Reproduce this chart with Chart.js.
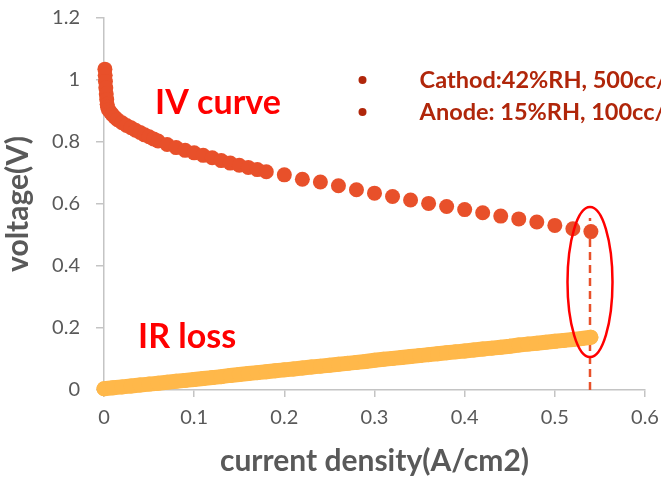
<!DOCTYPE html>
<html>
<head>
<meta charset="utf-8">
<script src="https://cdn.jsdelivr.net/npm/chart.js@4"></script>
<style>
  html, body { margin: 0; padding: 0; background: #ffffff; }
  #wrap { width: 661px; height: 479px; position: relative; }
</style>
</head>
<body>
<div id="wrap"><canvas id="ivChart"></canvas></div>
<script>
// IV curve (current density A/cm2, voltage V)
const ivX = [0.001, 0.0013, 0.0016, 0.002, 0.0025, 0.003, 0.0035, 0.004, 0.005, 0.007, 0.009, 0.012, 0.015,
  0.02, 0.025, 0.03, 0.035, 0.04, 0.045, 0.05, 0.055, 0.06, 0.07, 0.08, 0.09, 0.10, 0.11, 0.12, 0.13,
  0.14, 0.15, 0.16, 0.17, 0.18, 0.20, 0.22, 0.24, 0.26, 0.28, 0.30, 0.32, 0.34, 0.36, 0.38, 0.40,
  0.42, 0.44, 0.46, 0.48, 0.50, 0.52, 0.54];
const ivY = [1.035, 1.015, 0.995, 0.975, 0.955, 0.937, 0.922, 0.912, 0.904, 0.897, 0.889, 0.880, 0.872,
  0.862, 0.853, 0.846, 0.838, 0.831, 0.823, 0.817, 0.810, 0.803, 0.792, 0.782, 0.773, 0.765, 0.757, 0.749, 0.740,
  0.732, 0.725, 0.718, 0.711, 0.704, 0.694, 0.680, 0.671, 0.659, 0.646, 0.635, 0.624, 0.613, 0.602, 0.592, 0.582,
  0.572, 0.561, 0.552, 0.542, 0.531, 0.520, 0.511];

// IR loss
const irX = [0, 0.01, 0.02, 0.03, 0.04, 0.05, 0.06, 0.07, 0.08, 0.09, 0.10, 0.11, 0.12, 0.13, 0.14, 0.15,
  0.16, 0.17, 0.18, 0.19, 0.20, 0.21, 0.22, 0.23, 0.24, 0.25, 0.26, 0.27, 0.28, 0.29, 0.30, 0.31, 0.32,
  0.33, 0.34, 0.35, 0.36, 0.37, 0.38, 0.39, 0.40, 0.41, 0.42, 0.43, 0.44, 0.45, 0.46, 0.47, 0.48, 0.49,
  0.50, 0.51, 0.52, 0.53, 0.54];
const irY = [0.004, 0.007, 0.010, 0.013, 0.016, 0.019, 0.022, 0.025, 0.028, 0.031, 0.034, 0.037, 0.040,
  0.043, 0.047, 0.050, 0.053, 0.056, 0.059, 0.062, 0.065, 0.068, 0.071, 0.074, 0.077, 0.080, 0.083, 0.086,
  0.089, 0.092, 0.096, 0.099, 0.102, 0.105, 0.108, 0.111, 0.114, 0.117, 0.120, 0.123, 0.126, 0.129, 0.132,
  0.135, 0.138, 0.141, 0.145, 0.148, 0.151, 0.154, 0.157, 0.160, 0.163, 0.166, 0.170];

// operating point marked with the dashed line and the ellipse
const markX = [0.539, 0.539];
const markY = [0, 0.555];

const conditions = ['Cathod:42%RH, 500cc/min', 'Anode: 15%RH, 100cc/min'];

const xTicks = [0, 0.1, 0.2, 0.3, 0.4, 0.5, 0.6];
const yTicks = [0, 0.2, 0.4, 0.6, 0.8, 1, 1.2];

const toPoints = (xs, ys) => xs.map((x, i) => ({ x: x, y: ys[i] }));

const FONT = 'Lato, "Liberation Sans", sans-serif';
const AXIS_GREY = '#595959';
const LINE_GREY = '#c4c4c4';

// text labels + ellipse drawn in data space
const annotations = {
  id: 'annotations',
  afterDatasetsDraw(chart) {
    const { ctx, scales: { x, y } } = chart;
    ctx.save();

    // ellipse round the last point
    ctx.beginPath();
    ctx.ellipse(x.getPixelForValue(0.539), y.getPixelForValue(0.348), 22.5, 75, 0, 0, Math.PI * 2);
    ctx.strokeStyle = '#ff0000';
    ctx.lineWidth = 2.5;
    ctx.stroke();

    ctx.fillStyle = '#ff0000';
    ctx.font = 'bold 34px ' + FONT;
    ctx.textBaseline = 'middle';
    ctx.fillText('IV curve', x.getPixelForValue(0.0567), y.getPixelForValue(0.926));
    ctx.fillText('IR loss', x.getPixelForValue(0.0378), y.getPixelForValue(0.171));

    ctx.fillStyle = '#b0260a';
    ctx.font = 'bold 23.5px ' + FONT;
    const rows = [1.0, 0.897];
    conditions.forEach((txt, i) => {
      const py = y.getPixelForValue(rows[i]);
      ctx.beginPath();
      ctx.arc(x.getPixelForValue(0.2867), py, 4, 0, Math.PI * 2);
      ctx.fill();
      ctx.fillText(txt, x.getPixelForValue(0.35), py);
    });
    ctx.restore();
  }
};

const noEdgePadding = (scale) => {
  scale.paddingLeft = 0;
  scale.paddingRight = 0;
  scale.paddingTop = 0;
  scale.paddingBottom = 0;
};

const ctx = document.getElementById('ivChart').getContext('2d');
new Chart(ctx, {
  type: 'scatter',
  data: {
    datasets: [
      {
        label: 'IV curve',
        data: toPoints(ivX, ivY),
        backgroundColor: '#e8502a',
        pointRadius: 7.5,
        pointBorderWidth: 0,
        clip: false
      },
      {
        label: 'IR loss',
        data: toPoints(irX, irY),
        backgroundColor: '#ffb84a',
        borderColor: '#ffb84a',
        showLine: true,
        borderWidth: 15,
        borderCapStyle: 'round',
        pointRadius: 7.5,
        pointBorderWidth: 0,
        clip: false
      },
      {
        label: 'mark',
        data: toPoints(markX, markY),
        borderColor: '#e8502a',
        showLine: true,
        borderWidth: 2.5,
        borderDash: [8, 5],
        pointRadius: 0,
        clip: false
      }
    ]
  },
  options: {
    responsive: true,
    maintainAspectRatio: false,
    animation: false,
    layout: { padding: { left: 0, right: 16, top: 18, bottom: 0 } },
    plugins: {
      legend: { display: false },
      tooltip: { enabled: false }
    },
    scales: {
      x: {
        type: 'linear',
        min: 0,
        max: 0.6,
        afterBuildTicks: (scale) => { scale.ticks = xTicks.map(v => ({ value: v })); },
        afterFit: (scale) => { scale.height = 89; noEdgePadding(scale); },
        grid: { display: true, drawOnChartArea: false, tickLength: 7, color: LINE_GREY, lineWidth: 1.5 },
        border: { color: LINE_GREY, width: 1.5 },
        ticks: { color: AXIS_GREY, font: { family: FONT, size: 20 }, padding: 9, callback: (v) => String(v) },
        title: {
          display: true,
          text: 'current density(A/cm2)',
          color: AXIS_GREY,
          font: { family: FONT, size: 30, weight: 'bold' },
          padding: { top: 0, bottom: 0 }
        }
      },
      y: {
        type: 'linear',
        min: 0,
        max: 1.2,
        afterBuildTicks: (scale) => { scale.ticks = yTicks.map(v => ({ value: v })); },
        afterFit: (scale) => { scale.width = 104; noEdgePadding(scale); },
        grid: { display: true, drawOnChartArea: false, tickLength: 8, color: LINE_GREY, lineWidth: 1.5 },
        border: { color: LINE_GREY, width: 1.5 },
        ticks: { color: AXIS_GREY, font: { family: FONT, size: 20 }, padding: 16, callback: (v) => String(v) },
        title: {
          display: true,
          text: 'voltage(V)',
          color: AXIS_GREY,
          font: { family: FONT, size: 30, weight: 'bold' },
          padding: { top: 0, bottom: 3 }
        }
      }
    }
  },
  plugins: [annotations]
});
</script>
</body>
</html>
